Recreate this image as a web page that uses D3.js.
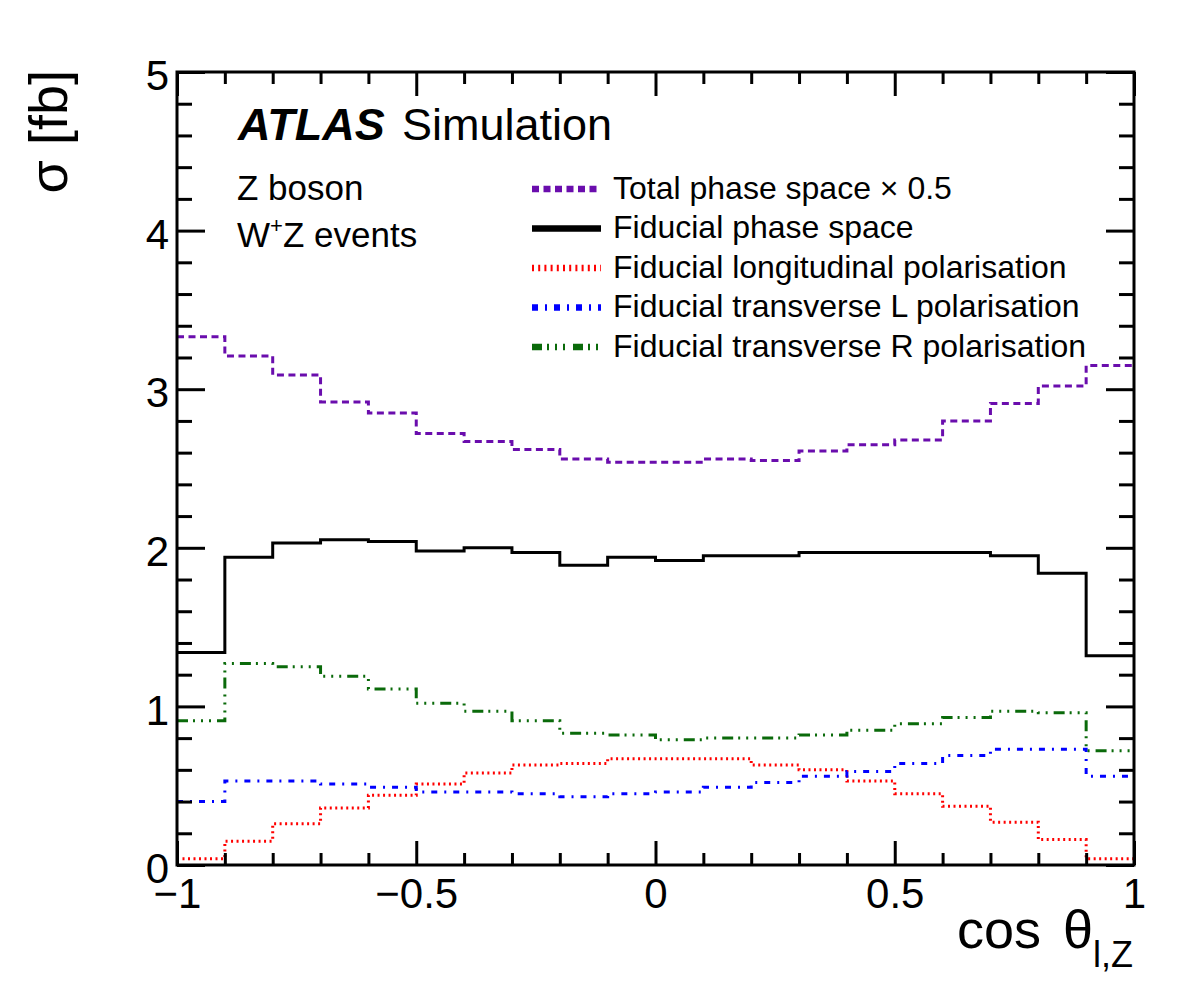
<!DOCTYPE html>
<html>
<head>
<meta charset="utf-8">
<script src="https://cdn.jsdelivr.net/npm/d3@7"></script>
<style>
  html, body { margin: 0; padding: 0; background: #fff; }
  text { font-family: "Liberation Sans", Arial, Helvetica, sans-serif; fill: #000; }
</style>
</head>
<body>
<svg id="chart" width="1182" height="994"></svg>
<script>
// ---- data ----
const binEdges = [-1, -0.9, -0.8, -0.7, -0.6, -0.5, -0.4, -0.3, -0.2, -0.1, 0,
                  0.1, 0.2, 0.3, 0.4, 0.5, 0.6, 0.7, 0.8, 0.9, 1];
const totalHalf = [3.33, 3.21, 3.09, 2.92, 2.85, 2.72, 2.67, 2.62, 2.56, 2.54,
                   2.54, 2.56, 2.55, 2.61, 2.65, 2.68, 2.80, 2.91, 3.02, 3.15];
const fiducial = [1.34, 1.94, 2.03, 2.05, 2.04, 1.98, 2.00, 1.97, 1.89, 1.94,
                  1.92, 1.95, 1.95, 1.97, 1.97, 1.97, 1.97, 1.95, 1.84, 1.32];
const longitudinal = [0.04, 0.15, 0.26, 0.36, 0.44, 0.51, 0.58, 0.63, 0.64, 0.67,
                      0.67, 0.67, 0.63, 0.60, 0.53, 0.45, 0.37, 0.27, 0.16, 0.04];
const transverseL = [0.40, 0.53, 0.53, 0.51, 0.49, 0.46, 0.46, 0.45, 0.43, 0.45,
                     0.46, 0.49, 0.52, 0.56, 0.59, 0.64, 0.69, 0.73, 0.73, 0.56];
const transverseR = [0.91, 1.27, 1.25, 1.19, 1.11, 1.02, 0.97, 0.91, 0.83, 0.82,
                     0.79, 0.80, 0.80, 0.82, 0.85, 0.89, 0.93, 0.97, 0.96, 0.72];
const xMajorTicks = [-1, -0.5, 0, 0.5, 1];
const xTickLabels = ["\u22121", "\u22120.5", "0", "0.5", "1"];
const xMinorTicks = [-0.9, -0.8, -0.7, -0.6, -0.4, -0.3, -0.2, -0.1, 0.1, 0.2, 0.3, 0.4, 0.6, 0.7, 0.8, 0.9];
const yMajorTicks = [0, 1, 2, 3, 4, 5];
const yTickLabels = ["0", "1", "2", "3", "4", "5"];
const yMinorTicks = [0.2, 0.4, 0.6, 0.8, 1.2, 1.4, 1.6, 1.8, 2.2, 2.4, 2.6, 2.8, 3.2, 3.4, 3.6, 3.8, 4.2, 4.4, 4.6, 4.8];
const seriesNames = ["Total phase space \u00d7 0.5", "Fiducial phase space",
  "Fiducial longitudinal polarisation", "Fiducial transverse L polarisation",
  "Fiducial transverse R polarisation"];

// ---- styles ----
const seriesStyle = [
  { values: totalHalf, color: "#6a0dad", dash: "7,4.5", width: 3, legW: 6.5, legDash: "7,4.5" },
  { values: fiducial, color: "#000000", dash: null, width: 3, legW: 6.5, legDash: null },
  { values: longitudinal, color: "#ff0000", dash: "2,3.5", width: 3, legW: 6.5, legDash: "2,4.2" },
  { values: transverseL, color: "#0000ff", dash: "6,7,2,7", width: 3, legW: 6.5, legDash: "6,7,2,7" },
  { values: transverseR, color: "#0a6a0a", dash: "11,5,2,6,2,6,2,6", width: 3, legW: 6.5, legDash: "10,5,2,6,2,6,2,8" }
];

const L = 177, R = 1134, T = 72, B = 865;
const x = d3.scaleLinear().domain([-1, 1]).range([L, R]);
const y = d3.scaleLinear().domain([0, 5]).range([B, T]);

const svg = d3.select("#chart");

// histograms
const line = d3.line().x(d => x(d[0])).y(d => y(d[1])).curve(d3.curveStepAfter);
seriesStyle.forEach(s => {
  const pts = s.values.map((v, i) => [binEdges[i], v]);
  pts.push([binEdges[binEdges.length - 1], s.values[s.values.length - 1]]);
  svg.append("path").attr("d", line(pts))
    .attr("fill", "none").attr("stroke", s.color).attr("stroke-width", s.width)
    .attr("stroke-dasharray", s.dash).attr("stroke-linejoin", "miter");
});

// axes
function styleAxis(g) {
  g.select(".domain").remove();
  g.selectAll(".tick line").attr("stroke", "#000").attr("stroke-width", 3);
}
const fontSize = 42;
// bottom
svg.append("g").attr("transform", `translate(0,${B})`)
  .call(d3.axisBottom(x).tickValues(xMajorTicks).tickSizeInner(-24).tickSizeOuter(0).tickPadding(13)
    .tickFormat((d, i) => xTickLabels[i]))
  .call(styleAxis)
  .call(g => g.selectAll("text").attr("font-size", fontSize).attr("font-family", null).attr("fill", "#000"));
svg.append("g").attr("transform", `translate(0,${B})`)
  .call(d3.axisBottom(x).tickValues(xMinorTicks).tickSizeInner(-12).tickSizeOuter(0).tickFormat(""))
  .call(styleAxis);
// top
svg.append("g").attr("transform", `translate(0,${T})`)
  .call(d3.axisTop(x).tickValues(xMajorTicks).tickSizeInner(-24).tickSizeOuter(0).tickFormat(""))
  .call(styleAxis);
svg.append("g").attr("transform", `translate(0,${T})`)
  .call(d3.axisTop(x).tickValues(xMinorTicks).tickSizeInner(-12).tickSizeOuter(0).tickFormat(""))
  .call(styleAxis);
// left
svg.append("g").attr("transform", `translate(${L},0)`)
  .call(d3.axisLeft(y).tickValues(yMajorTicks).tickSizeInner(-28).tickSizeOuter(0).tickPadding(8)
    .tickFormat((d, i) => yTickLabels[i]))
  .call(styleAxis)
  .call(g => g.selectAll("text").attr("font-size", fontSize).attr("font-family", null).attr("fill", "#000").attr("dy", "0.42em"));
svg.append("g").attr("transform", `translate(${L},0)`)
  .call(d3.axisLeft(y).tickValues(yMinorTicks).tickSizeInner(-15).tickSizeOuter(0).tickFormat(""))
  .call(styleAxis);
// right
svg.append("g").attr("transform", `translate(${R},0)`)
  .call(d3.axisRight(y).tickValues(yMajorTicks).tickSizeInner(-28).tickSizeOuter(0).tickFormat(""))
  .call(styleAxis);
svg.append("g").attr("transform", `translate(${R},0)`)
  .call(d3.axisRight(y).tickValues(yMinorTicks).tickSizeInner(-15).tickSizeOuter(0).tickFormat(""))
  .call(styleAxis);

// frame
svg.append("rect").attr("x", L).attr("y", T).attr("width", R - L).attr("height", B - T)
  .attr("fill", "none").attr("stroke", "#000").attr("stroke-width", 3);

// axis titles
svg.append("text").attr("transform", `translate(67,${T - 2}) rotate(-90)`)
  .attr("text-anchor", "end").attr("font-size", 54).text("\u03c3 [fb]");

const xt = svg.append("text").attr("x", R - 1).attr("y", 948).attr("text-anchor", "end").attr("font-size", 54);
xt.append("tspan").text("cos");
xt.append("tspan").attr("dx", 22).text("\u03b8");
xt.append("tspan").attr("font-size", 36).attr("dy", 19).text("l,Z");

// ATLAS label
svg.append("text").attr("x", 238).attr("y", 140).attr("font-size", 45)
  .attr("font-weight", "bold").attr("font-style", "italic").text("ATLAS");
svg.append("text").attr("x", 402).attr("y", 140).attr("font-size", 45).text("Simulation");
svg.append("text").attr("x", 237).attr("y", 200).attr("font-size", 35).text("Z boson");
const wz = svg.append("text").attr("x", 237).attr("y", 247).attr("font-size", 35);
wz.append("tspan").text("W");
wz.append("tspan").attr("font-size", 22).attr("dy", -14).text("+");
wz.append("tspan").attr("dy", 14).text("Z events");

// legend
const legY0 = 189, legStep = 39.5;
seriesStyle.forEach((s, i) => {
  const cy = legY0 + i * legStep;
  svg.append("line").attr("x1", 532).attr("x2", 601).attr("y1", cy).attr("y2", cy)
    .attr("stroke", s.color).attr("stroke-width", s.legW).attr("stroke-dasharray", s.legDash);
  svg.append("text").attr("x", 613).attr("y", cy + 9.5).attr("font-size", 32).text(seriesNames[i]);
});
</script>
</body>
</html>
